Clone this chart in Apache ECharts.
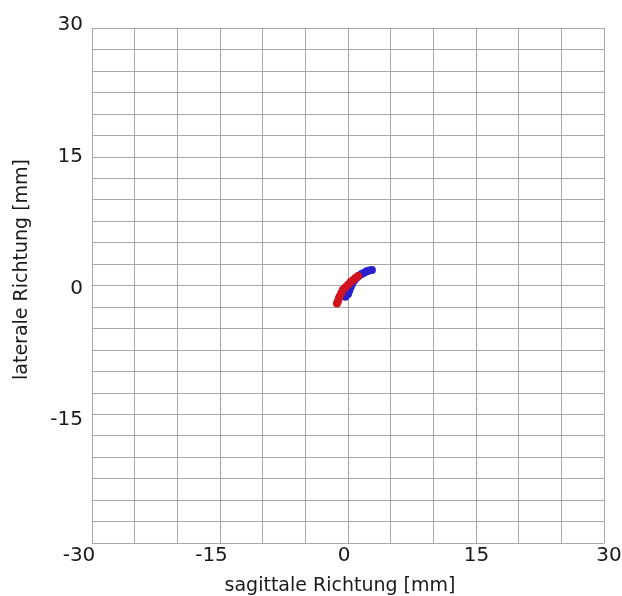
<!DOCTYPE html>
<html>
<head>
<meta charset="utf-8">
<script src="https://cdn.jsdelivr.net/npm/echarts@6/dist/echarts.min.js"></script>
<style>
  html, body { margin: 0; padding: 0; background: #fff; }
  #main { width: 622px; height: 596px; }
</style>
</head>
<body>
<div id="main"></div>
<script>
// sagittal (x) / lateral (y) sway, in mm
var blueX = [2.8, 2.5, 2.2, 1.9, 1.6, 1.3, 1.0, 0.75, 0.5, 0.3, 0.15, 0.0, -0.3]
var blueY = [1.8, 1.75, 1.65, 1.5, 1.35, 1.15, 0.9, 0.6, 0.2, -0.2, -0.6, -1.0, -1.3]
var redX = [1.2, 0.9, 0.6, 0.3, 0.0, -0.3, -0.6, -0.8, -1.0, -1.1, -1.2, -1.3]
var redY = [1.1, 0.9, 0.65, 0.4, 0.1, -0.2, -0.5, -0.9, -1.3, -1.6, -1.9, -2.1]

function pairs(xs, ys) {
	var out = []
	for (var i = 0; i < xs.length; i++) out.push([xs[i], ys[i]])
	return out
}

var chart = echarts.init(document.getElementById('main'))
var gridColor = '#a8a8a8'
var font = 'DejaVu Sans, sans-serif'
var labelStyle = { color: '#1a1a1a', fontSize: 20, fontFamily: font }

// grid 0: the plot with its lines; grid 1: only the tick labels (a bit wider spread, like the original)
function plotAxis(name, minorSplit, extra) {
	var a = {
		type: 'value',
		gridIndex: 0,
		min: -30,
		max: 30,
		interval: 15,
		name: name,
		nameLocation: 'middle',
		axisLine: { show: true, lineStyle: { color: gridColor } },
		axisTick: { show: true, length: 4, lineStyle: { color: gridColor } },
		minorTick: { show: true, splitNumber: minorSplit, length: 4, lineStyle: { color: gridColor } },
		splitLine: { show: true, lineStyle: { color: gridColor, width: 1 } },
		minorSplitLine: { show: true, lineStyle: { color: gridColor, width: 1 } },
		axisLabel: { show: false }
	}
	for (var k in extra) a[k] = extra[k]
	return a
}

function labelAxis(extra) {
	var a = {
		type: 'value',
		gridIndex: 1,
		min: -30,
		max: 30,
		interval: 15,
		axisLine: { show: false },
		axisTick: { show: false },
		splitLine: { show: false }
	}
	for (var k in extra) a[k] = extra[k]
	return a
}

var option = {
	animation: false,
	grid: [
		{ left: 92, right: 18, top: 28, bottom: 53, outerBoundsMode: 'none' },
		{ left: 79, right: 13, top: 25, bottom: 44, outerBoundsMode: 'none' }
	],
	xAxis: [
		plotAxis('sagittale Richtung [mm]', 3, {
			nameGap: 34,
			nameTextStyle: { color: '#1a1a1a', fontSize: 19, fontFamily: font, padding: [0, 16, 0, 0] }
		}),
		labelAxis({ axisLabel: Object.assign({ margin: -6 }, labelStyle) })
	],
	yAxis: [
		plotAxis('laterale Richtung [mm]', 6, {
			nameGap: 60,
			nameTextStyle: { color: '#1a1a1a', fontSize: 19, fontFamily: font, padding: [0, 0, 0, 32] }
		}),
		labelAxis({ axisLabel: Object.assign({ margin: -4, showMinLabel: false }, labelStyle) })
	],
	series: [
		{
			type: 'scatter',
			symbolSize: 8,
			itemStyle: { color: '#2a1fcf', opacity: 1 },
			data: pairs(blueX, blueY)
		},
		{
			type: 'scatter',
			symbolSize: 8,
			itemStyle: { color: '#d2141f', opacity: 1 },
			data: pairs(redX, redY)
		}
	]
}

chart.setOption(option)
</script>
</body>
</html>
